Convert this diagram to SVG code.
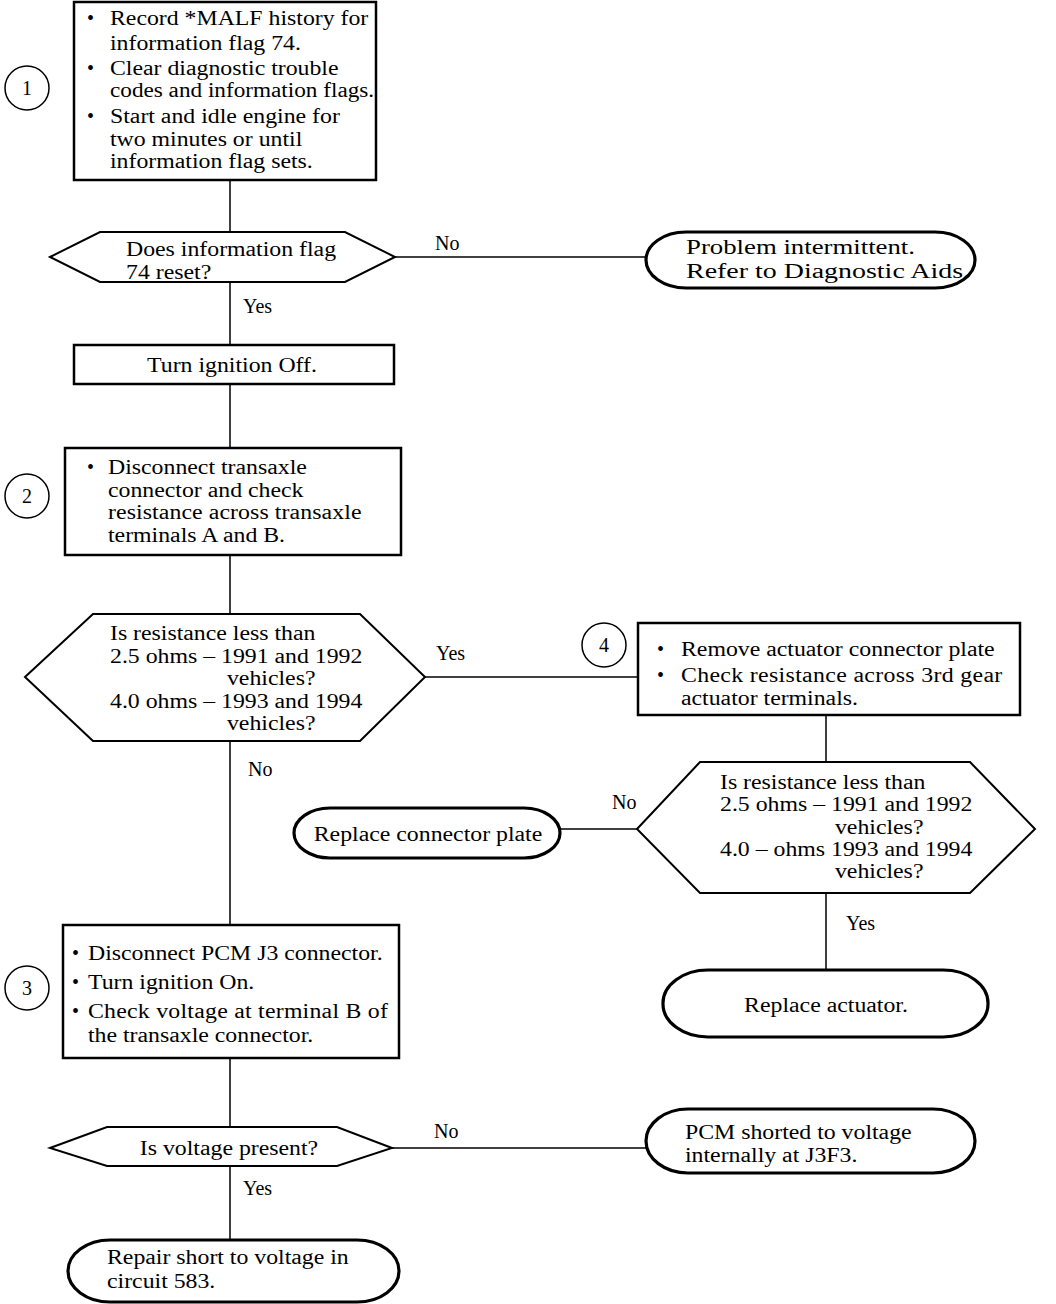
<svg xmlns="http://www.w3.org/2000/svg" width="1056" height="1304" viewBox="0 0 1056 1304">
<style>
text{font-family:"Liberation Serif","Times New Roman",serif;font-size:20px;fill:#000}
.box{fill:#fff;stroke:#000;stroke-width:2.5}
.dec{fill:#fff;stroke:#000;stroke-width:2}
.term{fill:#fff;stroke:#000;stroke-width:3.2}
.num{fill:#fff;stroke:#000;stroke-width:1.5}
.ln{fill:none;stroke:#000;stroke-width:1.5}
.c{text-anchor:middle}
</style>
<rect width="1056" height="1304" fill="#fff"/>
<g id="connectors">
<line class="ln" x1="230" y1="180" x2="230" y2="232"/>
<line class="ln" x1="395" y1="257" x2="646" y2="257"/>
<line class="ln" x1="230" y1="282" x2="230" y2="345"/>
<line class="ln" x1="230" y1="384" x2="230" y2="448"/>
<line class="ln" x1="230" y1="555" x2="230" y2="614"/>
<line class="ln" x1="425" y1="677" x2="638" y2="677"/>
<line class="ln" x1="826" y1="715" x2="826" y2="762"/>
<line class="ln" x1="637" y1="829" x2="560" y2="829"/>
<line class="ln" x1="826" y1="893" x2="826" y2="970"/>
<line class="ln" x1="230" y1="741" x2="230" y2="925"/>
<line class="ln" x1="230" y1="1058" x2="230" y2="1127"/>
<line class="ln" x1="392" y1="1148" x2="646" y2="1148"/>
<line class="ln" x1="230" y1="1166" x2="230" y2="1240"/>
<text x="435" y="250">No</text>
<text x="243" y="313">Yes</text>
<text x="436" y="660">Yes</text>
<text x="612" y="809">No</text>
<text x="248" y="776">No</text>
<text x="846" y="930">Yes</text>
<text x="434" y="1138">No</text>
<text x="243" y="1195">Yes</text>
</g>
<g id="step1">
<circle class="num" cx="27" cy="88" r="22"/>
<text class="c" x="27" y="95">1</text>
</g>
<g id="box1">
<rect class="box" x="74" y="2" width="302" height="178"/>
<text x="87" y="25">•</text><text x="87" y="75">•</text><text x="87" y="123">•</text>
<g transform="matrix(1.19 0 0 1 -20.9 0)">
<text x="110" y="25">Record *MALF history for</text>
<text x="110" y="50">information flag 74.</text>
<text x="110" y="75">Clear diagnostic trouble</text>
<text x="110" y="97" textLength="222" lengthAdjust="spacingAndGlyphs">codes and information flags.</text>
<text x="110" y="123">Start and idle engine for</text>
<text x="110" y="146">two minutes or until</text>
<text x="110" y="168">information flag sets.</text>
</g>
</g>
<g id="dec1">
<polygon class="dec" points="50,257 100,232 345,232 395,257 345,282 100,282"/>
<g transform="matrix(1.19 0 0 1 -23.94 0)">
<text x="126" y="256">Does information flag</text>
<text x="126" y="279">74 reset?</text>
</g>
</g>
<g id="term1">
<rect class="term" x="646" y="232" width="329" height="56" rx="40" ry="28"/>
<text x="686" y="254" textLength="229" lengthAdjust="spacingAndGlyphs">Problem intermittent.</text>
<text x="686" y="278" textLength="284" lengthAdjust="spacingAndGlyphs">Refer to Diagnostic Aids.</text>
</g>
<g id="box-off">
<rect class="box" x="74" y="345" width="320" height="39"/>
<g transform="matrix(1.19 0 0 1 -44.08 0)">
<text class="c" x="232" y="372">Turn ignition Off.</text>
</g>
</g>
<g id="step2">
<circle class="num" cx="27" cy="496" r="22"/>
<text class="c" x="27" y="503">2</text>
</g>
<g id="box2">
<rect class="box" x="65" y="448" width="336" height="107"/>
<text x="87" y="474">•</text>
<g transform="matrix(1.19 0 0 1 -20.52 0)">
<text x="108" y="474">Disconnect transaxle</text>
<text x="108" y="497">connector and check</text>
<text x="108" y="519" textLength="213" lengthAdjust="spacing">resistance across  transaxle</text>
<text x="108" y="542">terminals A and B.</text>
</g>
</g>
<g id="dec2">
<polygon class="dec" points="25,677 93,614 360,614 425,677 360,741 93,741"/>
<g transform="matrix(1.19 0 0 1 -20.9 0)">
<text x="110" y="640">Is resistance less than</text>
<text x="110" y="663">2.5 ohms – 1991 and 1992</text>
<text x="208.3" y="685">vehicles?</text>
<text x="110" y="708">4.0 ohms – 1993 and 1994</text>
<text x="208.3" y="730">vehicles?</text>
</g>
</g>
<g id="step4">
<circle class="num" cx="604" cy="645" r="22"/>
<text class="c" x="604" y="652">4</text>
</g>
<g id="box4">
<rect class="box" x="638" y="623" width="382" height="92"/>
<text x="657" y="656">•</text><text x="657" y="682">•</text>
<g transform="matrix(1.19 0 0 1 -129.39 0)">
<text x="681" y="656">Remove actuator connector plate</text>
<text x="681" y="682" textLength="270" lengthAdjust="spacing">Check resistance across 3rd gear</text>
<text x="681" y="705">actuator terminals.</text>
</g>
</g>
<g id="dec3">
<polygon class="dec" points="637,829 700,762 970,762 1035,829 970,893 700,893"/>
<g transform="matrix(1.19 0 0 1 -136.8 0)">
<text x="720" y="789">Is resistance less than</text>
<text x="720" y="811">2.5 ohms – 1991 and 1992</text>
<text x="816.6" y="834">vehicles?</text>
<text x="720" y="856">4.0 – ohms 1993 and 1994</text>
<text x="816.6" y="878">vehicles?</text>
</g>
</g>
<g id="term-plate">
<rect class="term" x="294" y="808" width="266" height="50" rx="36" ry="25"/>
<g transform="matrix(1.19 0 0 1 -81.32 0)">
<text class="c" x="428" y="841">Replace connector plate</text>
</g>
</g>
<g id="term-actuator">
<rect class="term" x="663" y="970" width="325" height="67" rx="45" ry="33"/>
<g transform="matrix(1.19 0 0 1 -156.94 0)">
<text class="c" x="826" y="1012">Replace actuator.</text>
</g>
</g>
<g id="step3">
<circle class="num" cx="27" cy="988" r="22"/>
<text class="c" x="27" y="995">3</text>
</g>
<g id="box3">
<rect class="box" x="63" y="925" width="336" height="133"/>
<text x="72" y="960">•</text><text x="72" y="989">•</text><text x="72" y="1018">•</text>
<g transform="matrix(1.19 0 0 1 -16.72 0)">
<text x="88" y="960">Disconnect PCM J3 connector.</text>
<text x="88" y="989">Turn ignition On.</text>
<text x="88" y="1018" textLength="252" lengthAdjust="spacing">Check voltage at terminal B of</text>
<text x="88" y="1042">the transaxle connector.</text>
</g>
</g>
<g id="dec4">
<polygon class="dec" points="50,1148 107,1127 337,1127 392,1148 337,1166 107,1166"/>
<g transform="matrix(1.19 0 0 1 -43.51 0)">
<text class="c" x="229" y="1155">Is voltage present?</text>
</g>
</g>
<g id="term-pcm">
<rect class="term" x="646" y="1109" width="329" height="64" rx="42" ry="32"/>
<g transform="matrix(1.19 0 0 1 -130.15 0)">
<text x="685" y="1139">PCM shorted to voltage</text>
<text x="685" y="1162">internally at J3F3.</text>
</g>
</g>
<g id="term-repair">
<rect class="term" x="68" y="1240" width="331" height="62" rx="42" ry="31"/>
<g transform="matrix(1.19 0 0 1 -20.33 0)">
<text x="107" y="1264">Repair short to voltage in</text>
<text x="107" y="1288">circuit 583.</text>
</g>
</g>
</svg>
